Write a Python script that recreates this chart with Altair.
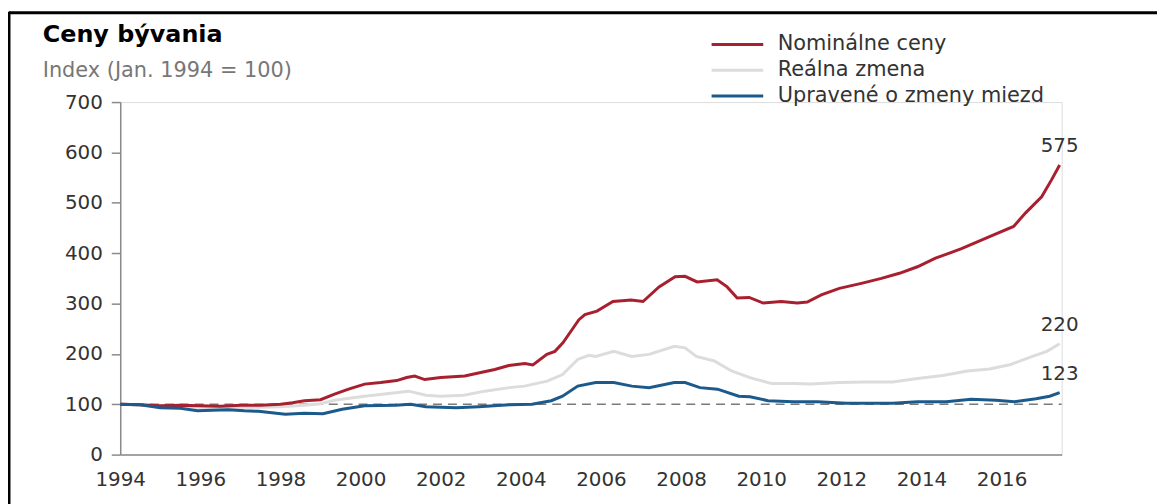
import altair as alt
import pandas as pd

# ---- data ----
title_text = ["Ceny bývania"]
subtitle_text = ["Index (Jan. 1994 = 100)"]
series_names = ["Nominálne ceny", "Reálna zmena", "Upravené o zmeny miezd"]
series_colors = ["#a8202f", "#dcdcdc", "#1d5a8c"]

nom_years = [1994.0, 1994.5, 1995.0, 1995.5, 1996.0, 1996.5, 1997.0, 1997.5, 1998.0, 1998.3,
             1998.6, 1999.0, 1999.35, 1999.7, 2000.1, 2000.5, 2000.9, 2001.15, 2001.35, 2001.6,
             2002.0, 2002.6, 2003.0, 2003.35, 2003.7, 2004.1, 2004.3, 2004.65, 2004.85, 2005.05,
             2005.25, 2005.45, 2005.6, 2005.9, 2006.3, 2006.75, 2007.05, 2007.45, 2007.85, 2008.1,
             2008.4, 2008.9, 2009.15, 2009.4, 2009.7, 2010.05, 2010.5, 2010.9, 2011.15, 2011.5,
             2011.95, 2012.5, 2013.0, 2013.45, 2013.9, 2014.35, 2014.8, 2015.0, 2015.7, 2016.3,
             2016.6, 2017.0, 2017.25, 2017.45]
nom_values = [100, 99, 97, 98, 97, 96, 98, 98, 100, 103,
              107, 109, 120, 130, 140, 143, 147, 153, 156, 149,
              153, 156, 163, 169, 177, 181, 178, 199, 205, 222,
              245, 268, 278, 285, 304, 307, 304, 333, 353, 354,
              343, 347, 333, 311, 312, 301, 304, 301, 303, 317,
              330, 340, 350, 360, 373, 390, 403, 409, 433, 453,
              480, 512, 546, 575]

real_years = [1994.0, 1994.5, 1995.0, 1995.5, 1996.0, 1996.5, 1997.0, 1997.5, 1998.0, 1998.6,
              1999.0, 1999.35, 2000.1, 2000.87, 2001.2, 2001.63, 2002.0, 2002.58, 2003.1, 2003.71,
              2004.09, 2004.66, 2005.04, 2005.42, 2005.7, 2005.87, 2006.32, 2006.77, 2007.2, 2007.83,
              2008.1, 2008.38, 2008.83, 2009.26, 2009.72, 2010.26, 2010.8, 2011.24, 2011.95, 2012.57,
              2013.28, 2013.9, 2014.53, 2015.15, 2015.7, 2016.23, 2016.77, 2017.13, 2017.45]
real_values = [100, 98, 96, 95, 94, 93, 94, 94, 95, 98,
               101, 108, 116, 123, 126, 118, 116, 118, 126, 133,
               136, 146, 159, 189, 197, 195, 205, 195, 199, 215,
               212, 195, 186, 166, 153, 141, 141, 140, 143, 144,
               144, 151, 157, 166, 170, 179, 195, 205, 220]

wage_years = [1994.0, 1994.5, 1995.0, 1995.5, 1995.93, 1996.3, 1996.7, 1997.1, 1997.45, 1998.12,
              1998.59, 1999.06, 1999.54, 2000.1, 2000.87, 2001.25, 2001.63, 2002.39, 2002.95, 2003.71,
              2004.28, 2004.76, 2005.04, 2005.42, 2005.87, 2006.32, 2006.77, 2007.2, 2007.83, 2008.1,
              2008.47, 2008.91, 2009.44, 2009.72, 2010.17, 2010.8, 2011.41, 2012.13, 2012.57, 2013.28,
              2013.9, 2014.62, 2015.24, 2015.86, 2016.32, 2016.86, 2017.2, 2017.45]
wage_values = [100, 99, 93, 92, 87, 88, 89, 87, 86, 80,
               82, 81, 90, 97, 98, 100, 95, 93, 95, 99,
               100, 107, 116, 136, 143, 143, 136, 133, 143, 143,
               133, 130, 116, 115, 107, 105, 105, 102, 102, 102,
               105, 105, 110, 108, 105, 111, 116, 123]

x_ticks = [1994, 1996, 1998, 2000, 2002, 2004, 2006, 2008, 2010, 2012, 2014, 2016]
y_ticks = [0, 100, 200, 300, 400, 500, 600, 700]
baseline_value = [100]

FONT = "DejaVu Sans"

frames = []
for name, ys, vs in [(series_names[0], nom_years, nom_values),
                     (series_names[1], real_years, real_values),
                     (series_names[2], wage_years, wage_values)]:
    frames.append(pd.DataFrame({"year": ys, "value": vs, "series": name}))
df = pd.concat(frames, ignore_index=True)
last = df.groupby("series", as_index=False).last()

xscale = alt.Scale(domain=[1994, 2017.5], nice=False, zero=False)
yscale = alt.Scale(domain=[0, 700], nice=False)
cscale = alt.Scale(domain=series_names, range=series_colors)

x_enc = alt.X("year:Q", scale=xscale,
              axis=alt.Axis(values=x_ticks, format="d", title=None, ticks=False, tickSize=0,
                            labelPadding=15, labelFlush=False, grid=False,
                            domainColor="#8a8a8a", domainWidth=1.5,
                            labelFontSize=20, labelColor="#333333", labelFont=FONT))
y_enc = alt.Y("value:Q", scale=yscale,
              axis=alt.Axis(values=y_ticks, title=None, tickSize=9, tickColor="#8a8a8a",
                            tickWidth=1.5, labelPadding=9, labelFlush=False, grid=False,
                            domainColor="#8a8a8a", domainWidth=1.5,
                            labelFontSize=20, labelColor="#333333", labelFont=FONT))

base = alt.Chart(df)

dash = alt.Chart(pd.DataFrame({"value": baseline_value})).mark_rule(
    color="#7a7a7a", strokeDash=[9, 6], strokeWidth=1.5
).encode(y=alt.Y("value:Q", scale=yscale), x=alt.value(0), x2=alt.value(948))

color_enc = alt.Color("series:N", scale=cscale, sort=series_names,
                      legend=alt.Legend(title=None, orient="none", legendX=594, legendY=-71,
                                        symbolType="stroke", symbolSize=2704, symbolStrokeWidth=3,
                                        clipHeight=26, rowPadding=0,
                                        labelFontSize=21, labelFont=FONT, labelColor="#333333",
                                        labelLimit=500, labelOffset=13))

layers = [dash]
for name in [series_names[1], series_names[0], series_names[2]]:
    layers.append(
        base.transform_filter(alt.datum.series == name)
        .mark_line(strokeWidth=3, interpolate="linear")
        .encode(x=x_enc, y=y_enc, color=color_enc)
    )

end_labels = alt.Chart(last).mark_text(
    dy=-19, fontSize=20, font=FONT, color="#333333", align="center"
).encode(x=alt.X("year:Q", scale=xscale), y=alt.Y("value:Q", scale=yscale),
         text=alt.Text("value:Q", format="d"))

title_mark = alt.Chart(pd.DataFrame({"t": title_text})).mark_text(
    font=FONT, fontSize=24, fontWeight="bold", color="black", align="left", baseline="alphabetic"
).encode(text="t:N", x=alt.value(-78), y=alt.value(-60))
subtitle_mark = alt.Chart(pd.DataFrame({"t": subtitle_text})).mark_text(
    font=FONT, fontSize=21, color="#777777", align="left", baseline="alphabetic"
).encode(text="t:N", x=alt.value(-78), y=alt.value(-25))

frame_df = pd.DataFrame({"k": [0]})
frame_top = alt.Chart(frame_df).mark_rule(color="black", strokeWidth=3).encode(
    x=alt.value(-112), x2=alt.value(1050), y=alt.value(-90))
frame_left = alt.Chart(frame_df).mark_rule(color="black", strokeWidth=3).encode(
    x=alt.value(-112), y=alt.value(-91), y2=alt.value(410))

chart = alt.layer(*layers, end_labels, title_mark, subtitle_mark, frame_top, frame_left).properties(
    width=948, height=355,
    autosize=alt.AutoSizeParams(type="none"),
    padding={"left": 113, "top": 93, "right": 96, "bottom": 48},
).configure_view(stroke=None).configure(background="white")

chart.save("out.html", embed_options={"renderer": "svg", "actions": False})
